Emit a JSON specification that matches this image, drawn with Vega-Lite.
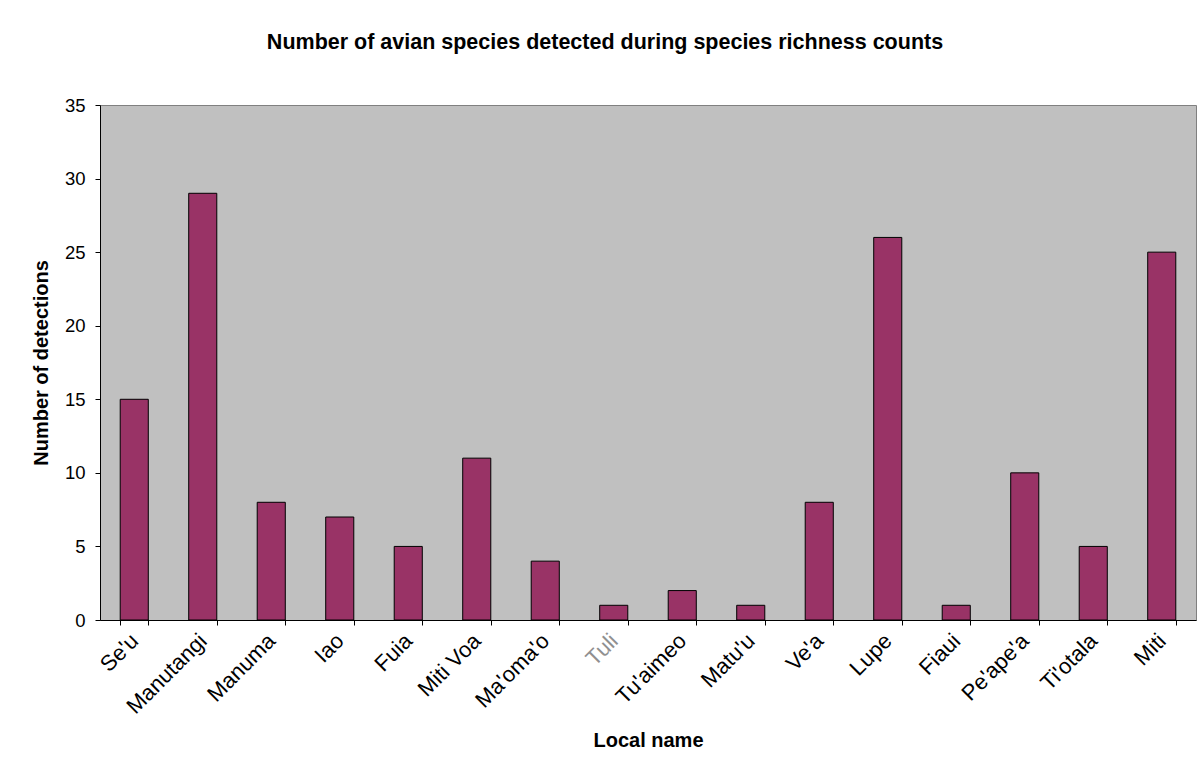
{
  "$schema": "https://vega.github.io/schema/vega-lite/v6.json",
  "autosize": {"type": "none"},
  "width": 1096,
  "height": 515,
  "padding": {"left": 100, "top": 105, "right": 7, "bottom": 151},
  "background": "white",
  "title": {
    "text": "Number of avian species detected during species richness counts",
    "font": "Liberation Sans",
    "fontSize": 21.5,
    "fontWeight": "bold",
    "color": "black",
    "anchor": "middle",
    "dx": -43,
    "offset": 43
  },
  "config": {
    "view": {"fill": "#C0C0C0", "stroke": "#808080", "strokeWidth": 1},
    "axis": {"labelFont": "Liberation Sans", "titleFont": "Liberation Sans", "labelColor": "black", "titleColor": "black", "domainColor": "black", "tickColor": "black", "grid": false}
  },
  "data": {
    "values": [
      {"name": "Se'u", "count": 15},
      {"name": "Manutangi", "count": 29},
      {"name": "Manuma", "count": 8},
      {"name": "Iao", "count": 7},
      {"name": "Fuia", "count": 5},
      {"name": "Miti Voa", "count": 11},
      {"name": "Ma'oma'o", "count": 4},
      {"name": "Tuli", "count": 1},
      {"name": "Tu'aimeo", "count": 2},
      {"name": "Matu'u", "count": 1},
      {"name": "Ve'a", "count": 8},
      {"name": "Lupe", "count": 26},
      {"name": "Fiaui", "count": 1},
      {"name": "Pe'ape'a", "count": 10},
      {"name": "Ti'otala", "count": 5},
      {"name": "Miti", "count": 25}
    ]
  },
  "mark": {"type": "bar", "fill": "#993366", "stroke": "black", "strokeWidth": 1},
  "encoding": {
    "x": {
      "field": "name",
      "type": "nominal",
      "sort": null,
      "scale": {"paddingInner": 0.59, "paddingOuter": 0.295},
      "axis": {
        "title": "Local name",
        "titleFontSize": 20,
        "titleFontWeight": "bold",
        "titlePadding": 13,
        "labelFontSize": 22,
        "labelAngle": -45,
        "labelAlign": "right",
        "labelBaseline": "middle",
        "labelPadding": 12,
        "tickBand": "extent",
        "tickSize": 5,
        "labelColor": {"condition": {"test": "datum.value === 'Tuli'", "value": "#909090"}, "value": "black"}
      }
    },
    "y": {
      "field": "count",
      "type": "quantitative",
      "scale": {"domain": [0, 35]},
      "axis": {
        "title": "Number of detections",
        "titleFontSize": 20,
        "titleFontWeight": "bold",
        "titlePadding": 13,
        "values": [0, 5, 10, 15, 20, 25, 30, 35],
        "labelFontSize": 18.5,
        "labelPadding": 10,
        "tickSize": 5
      }
    }
  }
}
